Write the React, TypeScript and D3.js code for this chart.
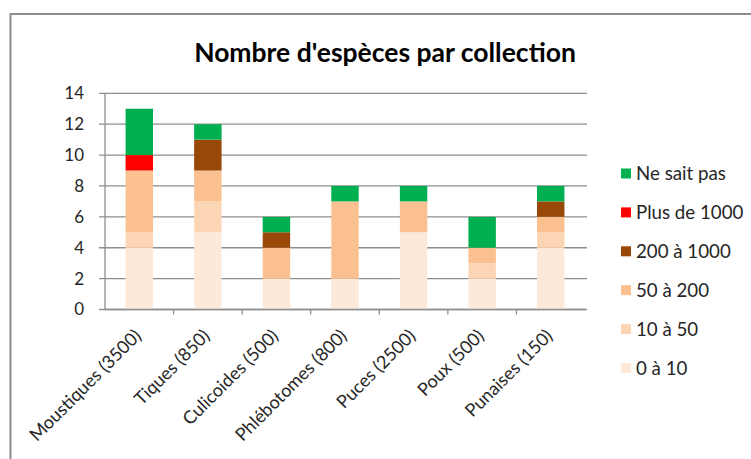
import React from "react";
import * as d3 from "d3";

const categories = [
  "Moustiques (3500)",
  "Tiques (850)",
  "Culicoides (500)",
  "Phlébotomes (800)",
  "Puces (2500)",
  "Poux (500)",
  "Punaises (150)",
];
const seriesNames = ["0 à 10", "10 à 50", "50 à 200", "200 à 1000", "Plus de 1000", "Ne sait pas"];
const s0a10 = [4, 5, 2, 2, 5, 2, 4];
const s10a50 = [1, 2, 0, 0, 0, 1, 1];
const s50a200 = [4, 2, 2, 5, 2, 1, 1];
const s200a1000 = [0, 2, 1, 0, 0, 0, 1];
const sPlus1000 = [1, 0, 0, 0, 0, 0, 0];
const sNSP = [3, 1, 1, 1, 1, 2, 1];
const seriesValues = [s0a10, s10a50, s50a200, s200a1000, sPlus1000, sNSP];
const colors = ["#fde9d9", "#fcd5b4", "#fac090", "#984807", "#ff0000", "#00b050"];
const yTicks = [0, 2, 4, 6, 8, 10, 12, 14];

const FONT = "Lato, 'Open Sans', sans-serif";

export default function App() {
  const W = 751, H = 459;
  const left = 105, right = 585, top = 93.3, bottom = 309.5;
  const x = d3.scaleBand<string>().domain(categories).range([left, right]).paddingInner(0.6).paddingOuter(0.3);
  const xb = d3.scaleBand<string>().domain(categories).range([left, right]);
  const y = d3.scaleLinear().domain([0, 14]).range([bottom, top]);

  const rows = categories.map((c, i) => {
    const r: any = { cat: c };
    seriesNames.forEach((s, j) => (r[s] = seriesValues[j][i]));
    return r;
  });
  const stack = d3.stack<any>().keys(seriesNames)(rows);

  const legendY0 = 173.5, legendStep = 38.9;
  const legendOrder = [...seriesNames].reverse();

  return (
    <svg width={W} height={H} style={{ position: "absolute", left: 0, top: 0 }}>
      <rect x={0} y={0} width={W} height={H} fill="#fff" />
      <rect x={10.5} y={14} width={W + 20} height={H + 20} fill="none" stroke="#8c8c8c" strokeWidth={2} />
      <text x={385} y={62} textAnchor="middle" fontFamily={FONT} fontWeight="bold" fontSize={26.5} fill="#000">
        Nombre d'espèces par collection
      </text>
      {yTicks.map((t) => (
        <g key={t}>
          <line x1={99} x2={587} y1={y(t)} y2={y(t)} stroke="#8e8e8e" strokeWidth={1.3} />
          <text x={84} y={y(t)} dy="0.35em" textAnchor="end" fontFamily={FONT} fontSize={17} fill="#262626">
            {t}
          </text>
        </g>
      ))}
      {stack.map((layer, j) => (
        <g key={j} fill={colors[j]}>
          {layer.map((d, i) =>
            d[1] - d[0] > 0 ? (
              <rect key={i} x={x(categories[i])} width={x.bandwidth()} y={y(d[1])} height={y(d[0]) - y(d[1])} />
            ) : null
          )}
        </g>
      ))}
      <line x1={left} x2={left} y1={top} y2={bottom} stroke="#8e8e8e" strokeWidth={1.3} />
      <line x1={left} x2={right} y1={bottom} y2={bottom} stroke="#8e8e8e" strokeWidth={1.3} />
      {categories.slice(1).map((c) => (
        <line key={c} x1={xb(c)} x2={xb(c)} y1={bottom} y2={bottom + 5} stroke="#8e8e8e" strokeWidth={1.3} />
      ))}
      {categories.map((c) => {
        const cx = (xb(c) as number) + xb.bandwidth() / 2 + 3;
        const cy = 337;
        return (
          <text key={c} transform={`translate(${cx},${cy}) rotate(-45)`} textAnchor="end" fontFamily={FONT} fontSize={18} fill="#262626">
            {c}
          </text>
        );
      })}
      {legendOrder.map((s, k) => {
        const j = seriesNames.indexOf(s);
        const cy = legendY0 + k * legendStep;
        return (
          <g key={s}>
            <rect x={621} y={cy - 5} width={10} height={10} fill={colors[j]} />
            <text x={636} y={cy} dy="0.35em" fontFamily={FONT} fontSize={18.7} fill="#262626">
              {s}
            </text>
          </g>
        );
      })}
    </svg>
  );
}
